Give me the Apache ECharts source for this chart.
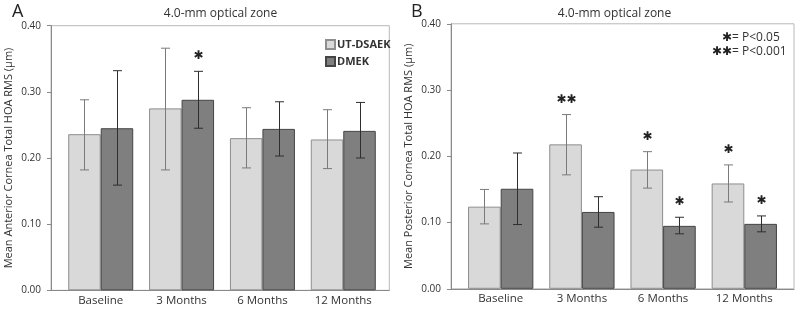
<!DOCTYPE html>
<html>
<head>
<meta charset="utf-8">
<script src="https://cdn.jsdelivr.net/npm/echarts@6/dist/echarts.min.js"></script>
<style>
  html, body { margin: 0; padding: 0; background: #fff; }
  #chart { width: 800px; height: 309px; }
</style>
</head>
<body>
<div id="chart"></div>
<script>
var categories = ["Baseline", "3 Months", "6 Months", "12 Months"];
var yTicks = [0, 0.1, 0.2, 0.3, 0.4];

// panel A - anterior cornea
var antUT = [0.236, 0.275, 0.230, 0.228];
var antUTLow = [0.182, 0.182, 0.185, 0.184];
var antUTHigh = [0.288, 0.366, 0.276, 0.273];
var antUTMarks = ["", "", "", ""];
var antDMEK = [0.245, 0.288, 0.244, 0.241];
var antDMEKLow = [0.159, 0.245, 0.203, 0.200];
var antDMEKHigh = [0.332, 0.331, 0.285, 0.284];
var antDMEKMarks = ["", "\u2731", "", ""];

// panel B - posterior cornea
var postUT = [0.124, 0.218, 0.180, 0.159];
var postUTLow = [0.098, 0.172, 0.152, 0.131];
var postUTHigh = [0.150, 0.263, 0.207, 0.187];
var postUTMarks = ["", "\u2731\u2731", "\u2731", "\u2731"];
var postDMEK = [0.151, 0.116, 0.095, 0.098];
var postDMEKLow = [0.097, 0.093, 0.083, 0.086];
var postDMEKHigh = [0.205, 0.139, 0.108, 0.110];
var postDMEKMarks = ["", "", "\u2731", "\u2731"];

var FONT = '"Open Sans", "DejaVu Sans", sans-serif';
var STAR_FONT = '"DejaVu Sans", sans-serif';
var CAT_GAP = 0.196;

var chart = echarts.init(document.getElementById("chart"));

function errorRender(marks, side, color) {
  return function (params, api) {
    var band = api.size([1, 0])[0];
    var barW = band * (1 - CAT_GAP) / 2;
    var top = api.coord([api.value(0), api.value(2)]);
    var bot = api.coord([api.value(0), api.value(1)]);
    var x = Math.round(top[0] + side * barW / 2) + 0.5;
    var cap = 4.5;
    var st = { stroke: color, lineWidth: 1 };
    var children = [
      { type: "line", shape: { x1: x, y1: top[1], x2: x, y2: bot[1] }, style: st },
      { type: "line", shape: { x1: x - cap, y1: top[1], x2: x + cap, y2: top[1] }, style: st },
      { type: "line", shape: { x1: x - cap, y1: bot[1], x2: x + cap, y2: bot[1] }, style: st }
    ];
    var m = marks[params.dataIndex];
    if (m) {
      children.push({
        type: "text",
        style: {
          text: m, x: x, y: top[1] - 15,
          textAlign: "center", align: "center",
          textVerticalAlign: "middle", verticalAlign: "middle",
          font: "12px " + STAR_FONT, fill: "#222"
        }
      });
    }
    return { type: "group", children: children };
  };
}

function errData(low, high) {
  return categories.map(function (c, i) { return [i, low[i], high[i]]; });
}

function panelAxes(gi, offset, name) {
  return {
    x: [
      {
        type: "category", gridIndex: gi, data: categories,
        axisLine: { show: false }, axisTick: { show: false },
        axisLabel: { color: "#333", fontSize: 11.5, fontFamily: FONT, margin: 4 }
      },
      {
        type: "value", gridIndex: gi + 1, min: 0, max: 1,
        axisLine: { show: true, lineStyle: { color: "#8a8a8a" } },
        axisTick: { show: false }, axisLabel: { show: false }, splitLine: { show: false }
      }
    ],
    y: [
      {
        type: "value", gridIndex: gi, min: 0, max: 0.4, interval: 0.1, offset: offset,
        name: name, nameLocation: "middle", nameGap: 37,
        nameTextStyle: { color: "#333", fontSize: 11, fontFamily: FONT },
        axisLine: { show: true, lineStyle: { color: "#8a8a8a" } },
        axisTick: { show: true, length: 4, lineStyle: { color: "#8a8a8a" } },
        axisLabel: {
          color: "#333", fontSize: 10, fontFamily: FONT, margin: 10,
          formatter: function (v) { return v.toFixed(2); }
        },
        splitLine: { show: false }
      },
      { type: "value", gridIndex: gi + 1, show: false, min: 0, max: 1 }
    ]
  };
}

var A = panelAxes(0, 9.3, "Mean Anterior Cornea Total HOA RMS (\u03bcm)");
var B = panelAxes(2, 9.1, "Mean Posterior Cornea Total HOA RMS (\u03bcm)");

var utStyle = { color: "#d9d9d9", borderColor: "#8e8e8e", borderWidth: 1 };
var dmekStyle = { color: "#7f7f7f", borderColor: "#454545", borderWidth: 1 };

function panelSeries(ax, vals1, low1, high1, marks1, vals2, low2, high2, marks2) {
  return [
    {
      name: "UT-DSAEK", type: "bar", xAxisIndex: ax, yAxisIndex: ax,
      barGap: "0%", barCategoryGap: (CAT_GAP * 100) + "%",
      itemStyle: utStyle, data: vals1, silent: true
    },
    {
      name: "DMEK", type: "bar", xAxisIndex: ax, yAxisIndex: ax,
      barGap: "0%", barCategoryGap: (CAT_GAP * 100) + "%",
      itemStyle: dmekStyle, data: vals2, silent: true
    },
    {
      type: "custom", xAxisIndex: ax, yAxisIndex: ax, z: 5, silent: true,
      renderItem: errorRender(marks1, -1, "#7a7a7a"), data: errData(low1, high1)
    },
    {
      type: "custom", xAxisIndex: ax, yAxisIndex: ax, z: 5, silent: true,
      renderItem: errorRender(marks2, 1, "#2e2e2e"), data: errData(low2, high2)
    }
  ];
}

var frame = { show: true, borderColor: "#b8b8b8", borderWidth: 1, backgroundColor: "transparent" };

chart.setOption({
  animation: false,
  grid: [
    { left: 60.3, top: 25.7, width: 323.4, height: 264.6 },
    Object.assign({ left: 51, top: 25.7, width: 338.3, height: 264.6 }, frame),
    { left: 460.1, top: 23.8, width: 324.8, height: 265 },
    Object.assign({ left: 451, top: 23.8, width: 343, height: 265 }, frame)
  ],
  xAxis: A.x.concat(B.x),
  yAxis: A.y.concat(B.y),
  legend: {
    data: ["UT-DSAEK", "DMEK"],
    orient: "vertical", left: 320, top: 34,
    itemWidth: 9, itemHeight: 9, itemGap: 6,
    icon: "rect",
    textStyle: { color: "#333", fontSize: 11, fontWeight: "bold", fontFamily: FONT, padding: [0, 0, 0, -3] },
    selectedMode: false
  },
  graphic: [
    { type: "text", x: 12, y: 3, style: { text: "A", font: "18px " + FONT, fill: "#222" } },
    { type: "text", x: 411, y: 3, style: { text: "B", font: "18px " + FONT, fill: "#222" } },
    { type: "text", x: 220.5, y: 14, style: { text: "4.0-mm optical zone", font: "12px " + FONT, fill: "#333", textAlign: "center", align: "center", textVerticalAlign: "middle", verticalAlign: "middle" } },
    { type: "text", x: 614.5, y: 13.7, style: { text: "4.0-mm optical zone", font: "12px " + FONT, fill: "#333", textAlign: "center", align: "center", textVerticalAlign: "middle", verticalAlign: "middle" } },
    { type: "text", x: 732, y: 38, style: { text: "\u2731", font: "12px " + STAR_FONT, fill: "#222", textAlign: "right", align: "right", textVerticalAlign: "middle", verticalAlign: "middle" } },
    { type: "text", x: 732, y: 52, style: { text: "\u2731\u2731", font: "12px " + STAR_FONT, fill: "#222", textAlign: "right", align: "right", textVerticalAlign: "middle", verticalAlign: "middle" } },
    { type: "text", x: 732, y: 38, style: { text: "= P<0.05", font: "12px " + FONT, fill: "#333", textAlign: "left", align: "left", textVerticalAlign: "middle", verticalAlign: "middle" } },
    { type: "text", x: 732, y: 52, style: { text: "= P<0.001", font: "12px " + FONT, fill: "#333", textAlign: "left", align: "left", textVerticalAlign: "middle", verticalAlign: "middle" } }
  ],
  series: panelSeries(0, antUT, antUTLow, antUTHigh, antUTMarks, antDMEK, antDMEKLow, antDMEKHigh, antDMEKMarks)
    .concat(panelSeries(2, postUT, postUTLow, postUTHigh, postUTMarks, postDMEK, postDMEKLow, postDMEKHigh, postDMEKMarks))
});
</script>
</body>
</html>
